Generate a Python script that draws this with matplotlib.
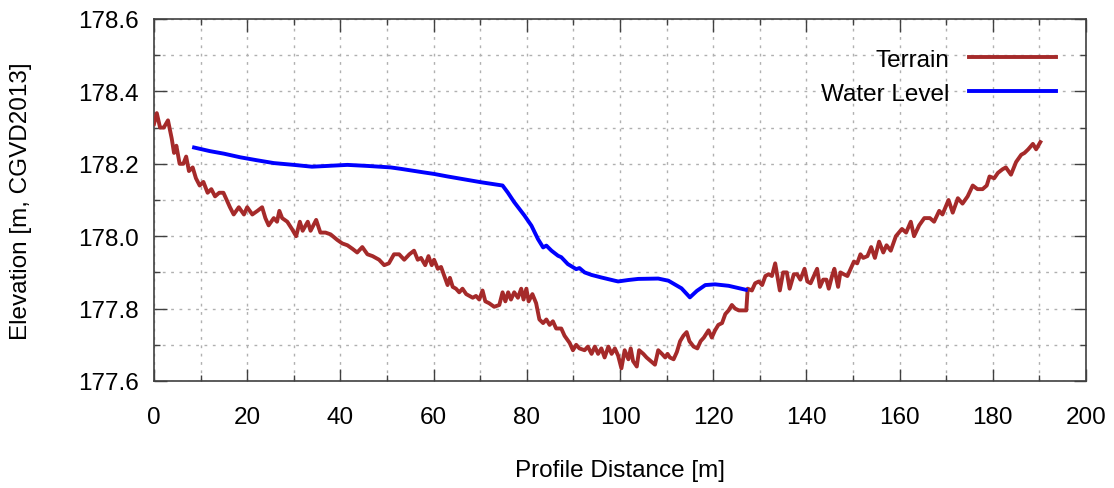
import matplotlib
matplotlib.use("Agg")
import matplotlib.pyplot as plt
import matplotlib.ticker as mticker

plt.rcParams.update({
    "font.family": ["Liberation Sans", "DejaVu Sans"],
    "font.size": 17.5,
})

# Terrain profile: distance along section [m], ground elevation [m]
terrain_dist = [
    0.0, 0.6, 1.3, 2.1, 3.0, 3.8, 4.3, 4.8, 5.5, 6.3, 6.9, 7.5, 8.3, 9.0, 9.8,
    10.6, 11.5, 12.3, 13.1, 14.0, 14.9, 15.6, 16.3, 17.1, 18.2, 19.3, 20.0, 21.1,
    22.2, 23.2, 23.9, 24.6, 25.7, 26.4, 26.9, 27.5, 28.6, 29.6, 30.5, 31.3, 31.9,
    33.0, 33.6, 34.8, 35.7, 36.8, 37.9, 39.3, 40.4, 41.5, 42.6, 43.6, 44.7, 45.8,
    46.9, 48.3, 49.4, 50.4, 51.5, 52.6, 53.7, 54.8, 55.8, 56.6, 57.3, 58.2, 58.9,
    59.6, 60.1, 60.9, 61.6, 62.3, 63.0, 63.5, 64.1, 64.8, 65.5, 66.2, 67.0, 67.7,
    68.4, 69.1, 69.8, 70.5, 71.1, 71.9, 73.0, 74.1, 74.8, 75.4, 76.0, 76.6, 77.3,
    78.1, 78.8, 79.3, 79.9, 80.4, 81.2, 82.0, 82.7, 83.5, 84.2, 84.9, 85.6, 86.3,
    87.4, 88.1, 89.2, 89.9, 90.6, 91.3, 92.4, 93.1, 93.9, 94.6, 95.3, 96.0, 96.7,
    97.5, 98.2, 98.9, 99.6, 100.3, 101.0, 101.8, 102.3, 102.8, 103.6, 104.1,
    105.0, 105.7, 106.6, 107.5, 108.2, 109.0, 109.7, 110.2, 110.7, 111.5, 112.2,
    112.9, 113.6, 114.3, 114.9, 115.8, 116.6, 117.3, 118.0, 119.0, 119.7, 120.4,
    121.1, 121.9, 122.6, 123.3, 124.0, 124.7, 125.5, 126.2, 127.1, 127.4, 128.3,
    129.0, 129.8, 130.5, 131.2, 131.9, 132.6, 133.3, 134.3, 135.0, 135.8, 136.4,
    137.3, 138.0, 138.7, 139.6, 140.2, 140.9, 141.6, 142.3, 142.9, 143.6, 144.3,
    144.8, 145.5, 146.0, 146.8, 147.3, 148.0, 148.8, 149.5, 150.2, 150.9, 151.6,
    152.2, 153.1, 153.9, 154.7, 155.6, 156.5, 157.2, 158.1, 159.2, 160.5, 161.4,
    162.4, 163.1, 164.2, 165.3, 166.5, 167.4, 168.5, 169.2, 170.5, 171.4, 172.5,
    173.5, 174.6, 175.7, 176.7, 177.8, 178.7, 179.3, 180.3, 181.1, 182.1, 182.8,
    183.9, 185.0, 186.1, 186.8, 187.6, 188.6, 189.3, 190.2,
]
terrain_elev = [
    178.31, 178.34, 178.30, 178.30, 178.32, 178.27, 178.23, 178.25, 178.20, 178.20,
    178.22, 178.18, 178.19, 178.16, 178.14, 178.15, 178.12, 178.13, 178.11, 178.12,
    178.12, 178.10, 178.08, 178.06, 178.08, 178.06, 178.08, 178.06, 178.07, 178.08,
    178.05, 178.03, 178.05, 178.04, 178.07, 178.05, 178.04, 178.02, 178.00, 178.04,
    178.015, 178.04, 178.015, 178.045, 178.01, 178.01, 178.005, 177.99, 177.98,
    177.975, 177.965, 177.955, 177.97, 177.95, 177.945, 177.935, 177.92, 177.925,
    177.95, 177.95, 177.935, 177.95, 177.96, 177.935, 177.94, 177.92, 177.945,
    177.92, 177.935, 177.91, 177.915, 177.89, 177.865, 177.885, 177.86, 177.855,
    177.845, 177.855, 177.84, 177.835, 177.83, 177.835, 177.825, 177.85, 177.82,
    177.815, 177.805, 177.81, 177.845, 177.82, 177.845, 177.825, 177.845, 177.83,
    177.855, 177.825, 177.855, 177.82, 177.84, 177.815, 177.77, 177.76, 177.77,
    177.755, 177.765, 177.745, 177.745, 177.725, 177.705, 177.685, 177.70, 177.69,
    177.685, 177.695, 177.675, 177.695, 177.675, 177.69, 177.665, 177.695, 177.675,
    177.69, 177.67, 177.635, 177.685, 177.66, 177.69, 177.655, 177.64, 177.685,
    177.675, 177.665, 177.655, 177.645, 177.685, 177.675, 177.665, 177.675, 177.665,
    177.66, 177.68, 177.71, 177.725, 177.735, 177.71, 177.695, 177.69, 177.71,
    177.72, 177.74, 177.72, 177.74, 177.755, 177.76, 177.785, 177.795, 177.81,
    177.80, 177.795, 177.795, 177.795, 177.855, 177.85, 177.87, 177.875, 177.865,
    177.89, 177.895, 177.89, 177.925, 177.85, 177.90, 177.90, 177.855, 177.895,
    177.895, 177.88, 177.91, 177.875, 177.87, 177.89, 177.91, 177.86, 177.88,
    177.88, 177.855, 177.89, 177.91, 177.86, 177.90, 177.895, 177.89, 177.91,
    177.93, 177.925, 177.95, 177.94, 177.945, 177.97, 177.94, 177.985, 177.955,
    177.975, 177.96, 178.00, 178.02, 178.01, 178.04, 178.00, 178.03, 178.05,
    178.05, 178.04, 178.07, 178.06, 178.10, 178.065, 178.105, 178.09, 178.11,
    178.14, 178.13, 178.13, 178.14, 178.165, 178.16, 178.175, 178.185, 178.19,
    178.17, 178.205, 178.225, 178.23, 178.24, 178.255, 178.24, 178.26,
]

# Simulated water surface along the same section
water_dist = [
    8.6, 12.0, 15.0, 18.5, 22.0, 25.7, 30.0, 33.9, 37.0, 41.5, 46.0, 50.8, 53.0,
    58.0, 60.1, 63.0, 66.6, 70.2, 74.8, 75.9, 77.3, 79.5, 81.0, 82.4, 83.5, 84.2,
    85.3, 86.7, 87.4, 88.8, 90.6, 91.3, 92.4, 93.9, 96.0, 98.9, 99.6, 101.8,
    103.9, 108.2, 110.4, 113.2, 115.0, 116.5, 118.3, 120.4, 123.3, 127.0,
]
water_elev = [
    178.245, 178.235, 178.228, 178.218, 178.21, 178.202, 178.197, 178.192, 178.194,
    178.197, 178.194, 178.19, 178.186, 178.176, 178.172, 178.165, 178.157, 178.149,
    178.14, 178.121, 178.094, 178.057, 178.029, 177.992, 177.969, 177.974, 177.96,
    177.946, 177.942, 177.923, 177.909, 177.912, 177.90, 177.893, 177.886, 177.877,
    177.875, 177.879, 177.882, 177.883, 177.877, 177.856, 177.831, 177.849, 177.865,
    177.867, 177.863, 177.852,
]

fig = plt.figure(figsize=(11.14, 4.89), dpi=100)
ax = fig.add_axes([154 / 1114, 1 - 382 / 489, 932 / 1114, 362 / 489])

ax.plot(terrain_dist, terrain_elev, color="#a52a2a", lw=2.8, label="Terrain", zorder=3)
ax.plot(water_dist, water_elev, color="#0000ff", lw=2.8, label="Water Level", zorder=4)

ax.set_xlim(0, 200)
ax.set_ylim(177.6, 178.6)
ax.xaxis.set_major_locator(mticker.MultipleLocator(20))
ax.xaxis.set_minor_locator(mticker.MultipleLocator(10))
ax.yaxis.set_major_locator(mticker.MultipleLocator(0.2))
ax.yaxis.set_minor_locator(mticker.MultipleLocator(0.1))
ax.yaxis.set_major_formatter(mticker.FormatStrFormatter("%.1f"))

ax.tick_params(which="both", direction="in", top=True, right=True, color="#404040", width=1.0)
ax.tick_params(which="major", length=9)
ax.tick_params(which="minor", length=4.5)
ax.tick_params(axis="x", which="major", pad=18)
ax.tick_params(axis="y", which="major", pad=11)
for sp in ax.spines.values():
    sp.set_color("#404040")
    sp.set_linewidth(1.2)

ax.grid(which="both", color="#b0b0b0", lw=1.0, linestyle=(0, (2, 4)))
ax.set_axisbelow(True)

ax.set_xlabel("Profile Distance [m]")
ax.set_ylabel("Elevation [m, CGVD2013]")
ax.xaxis.set_label_coords(0.5, -0.215)
ax.yaxis.set_label_coords(-0.131, 0.5)

ax.legend(loc="upper right", bbox_to_anchor=(0.968, 0.918), frameon=False,
          markerfirst=False, handlelength=3.6, handletextpad=0.8,
          labelspacing=0.5, borderpad=0, borderaxespad=0)

fig.savefig("out.png", dpi=100)
